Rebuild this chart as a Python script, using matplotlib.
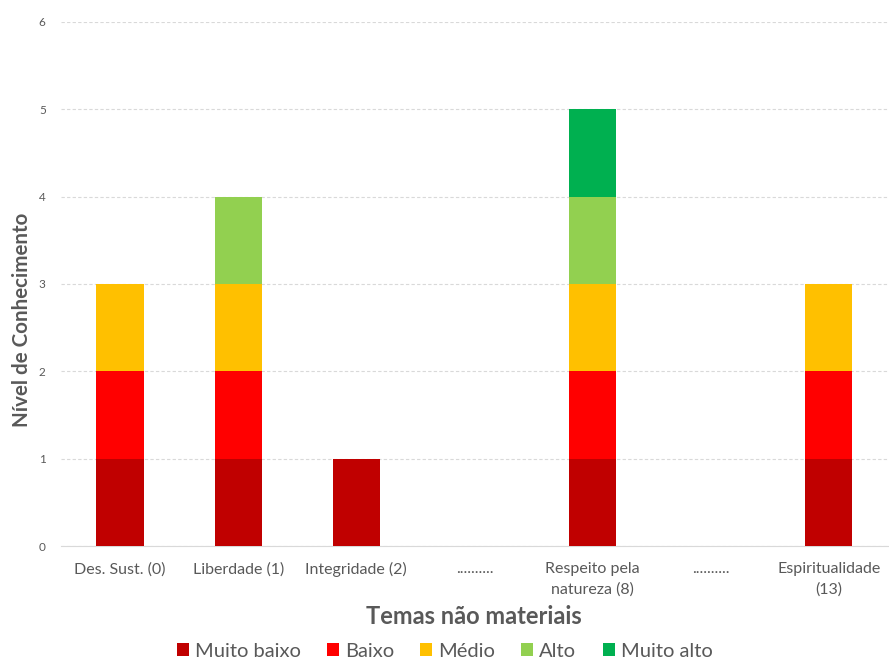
import numpy as np
import matplotlib
matplotlib.use("Agg")
import matplotlib.pyplot as plt

plt.rcParams['font.family'] = ['Lato', 'DejaVu Sans']

categories = ['Des. Sust. (0)', 'Liberdade (1)', 'Integridade (2)', '..........',
              'Respeito pela\nnatureza (8)', '..........', 'Espiritualidade\n(13)']
series_names = ['Muito baixo', 'Baixo', 'Médio', 'Alto', 'Muito alto']
muito_baixo = [1, 1, 1, 0, 1, 0, 1]
baixo = [1, 1, 0, 0, 1, 0, 1]
medio = [1, 1, 0, 0, 1, 0, 1]
alto = [0, 1, 0, 0, 1, 0, 0]
muito_alto = [0, 0, 0, 0, 1, 0, 0]
colors = ['#C00000', '#FF0000', '#FFC000', '#92D050', '#00B050']

fig = plt.figure(figsize=(8.89, 6.62), dpi=100)
ax = fig.add_axes([0.0686, 0.1752, 0.93, 0.7916])

x = np.arange(len(categories))
bottom = np.zeros(len(categories))
for name, vals, c in zip(series_names, [muito_baixo, baixo, medio, alto, muito_alto], colors):
    ax.bar(x, vals, 0.40, bottom=bottom, color=c, label=name, zorder=3)
    bottom += np.array(vals)

ax.set_ylim(0, 6)
ax.set_xlim(-0.5, len(categories) - 0.5)
ax.set_yticks(range(7))
ax.yaxis.grid(True, color='#d9d9d9', linestyle=(0, (3, 2)), linewidth=0.8, zorder=0)
ax.set_xticks(x)
ax.set_xticklabels(categories, fontsize=11.5, color='#595959', multialignment='center',
                   linespacing=1.6)
ax.tick_params(axis='y', labelsize=8.5, colors='#595959', length=0, pad=11)
ax.tick_params(axis='x', length=0, pad=11.5)
for s in ['top', 'right', 'left']:
    ax.spines[s].set_visible(False)
ax.spines['bottom'].set_color('#d9d9d9')

ax.set_ylabel('Nível de Conhecimento', fontsize=14.8, fontweight='bold', color='#595959')
ax.yaxis.set_label_coords(-0.035, 0.431)
ax.set_xlabel('Temas não materiais', fontsize=17, fontweight='bold', color='#595959', labelpad=6)

leg = fig.legend(loc='lower center', bbox_to_anchor=(0.5, -0.018), ncol=5, frameon=False,
                 fontsize=14.5, handlelength=0.6, handleheight=0.6, handletextpad=0.3,
                 columnspacing=1.3, borderpad=0.2)
for t in leg.get_texts():
    t.set_color('#595959')

fig.savefig('out.png', dpi=100)
